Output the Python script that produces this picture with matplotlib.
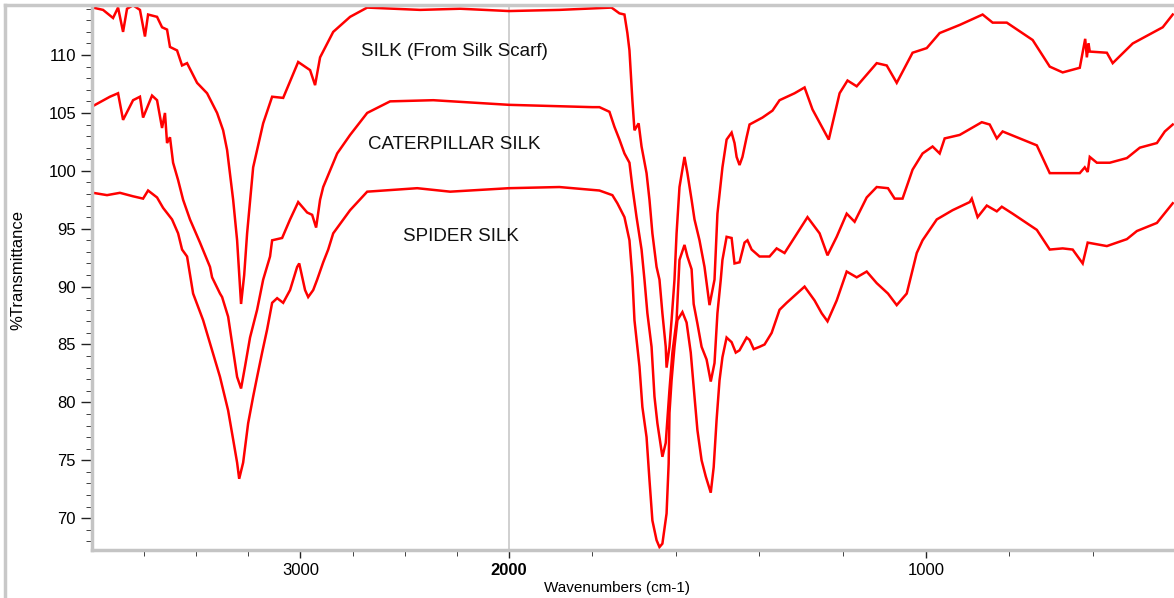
import matplotlib
matplotlib.use("Agg")
import matplotlib.pyplot as plt
import numpy as np
from matplotlib.lines import Line2D
from matplotlib.ticker import FixedLocator

# values (wavenumber cm-1, %T)
silk_wn = [3995, 3947, 3899, 3875, 3851, 3832, 3803, 3770, 3746, 3731, 3688, 3664,
           3640, 3626, 3592, 3568, 3544, 3496, 3448, 3400, 3371, 3352, 3323, 3304,
           3285, 3270, 3256, 3227, 3179, 3136, 3083, 3011, 2954, 2930, 2906, 2843,
           2762, 2680, 2426, 2234, 2000, 1879, 1754, 1735, 1723, 1716, 1711, 1704,
           1699, 1689, 1682, 1670, 1663, 1656, 1646, 1639, 1632, 1624, 1622, 1615,
           1610, 1603, 1598, 1591, 1579, 1572, 1562, 1555, 1543, 1531, 1519, 1507,
           1500, 1488, 1478, 1466, 1459, 1454, 1447, 1440, 1430, 1423, 1392, 1368,
           1351, 1339, 1315, 1291, 1272, 1233, 1207, 1188, 1166, 1118, 1094, 1070,
           1032, 998, 967, 919, 864, 840, 806, 744, 703, 672, 631, 618, 614, 610,
           607, 566, 552, 504, 432, 408]
silk_t = [114.1, 113.9, 113.2, 114.1, 112.0, 114.0, 114.3, 113.9, 111.6, 113.5, 113.3, 112.4,
          112.2, 110.7, 110.4, 109.1, 109.3, 107.6, 106.7, 105.0, 103.5, 101.8, 97.5, 94.0,
          88.5, 91.0, 94.6, 100.3, 104.1, 106.4, 106.3, 109.4, 108.7, 107.4, 109.8, 112.0,
          113.3, 114.1, 113.9, 114.0, 113.8, 113.9, 114.1, 113.6, 113.5, 111.9, 110.4, 106.1,
          103.5, 104.1, 102.1, 99.8, 97.5, 94.6, 91.7, 90.6, 87.7, 84.8, 83.0, 84.8,
          87.1, 90.6, 94.6, 98.6, 101.2, 99.8, 97.5, 95.8, 94.0, 91.7, 88.4, 90.6,
          96.3, 100.3, 102.7, 103.3, 102.4, 101.2, 100.5, 101.2, 102.9, 104.0, 104.6, 105.2,
          106.1, 106.3, 106.7, 107.2, 105.3, 102.7, 106.7, 107.8, 107.3, 109.3, 109.1, 107.6,
          110.2, 110.6, 111.9, 112.6, 113.5, 112.8, 112.8, 111.3, 109.0, 108.5, 108.9, 111.4,
          109.8, 111.0, 110.3, 110.2, 109.3, 111.0, 112.4, 113.5]

caterpillar_wn = [3995, 3914, 3875, 3851, 3803, 3770, 3755, 3712, 3688, 3664, 3650, 3640,
                  3626, 3611, 3587, 3563, 3530, 3482, 3434, 3424, 3386, 3376, 3347, 3323,
                  3304, 3285, 3266, 3242, 3208, 3179, 3146, 3136, 3088, 3050, 3011, 2968,
                  2944, 2925, 2906, 2891, 2824, 2762, 2680, 2570, 2363, 2000, 1800, 1783,
                  1759, 1747, 1735, 1723, 1711, 1704, 1694, 1682, 1675, 1668, 1658, 1651,
                  1644, 1639, 1632, 1624, 1620, 1615, 1608, 1598, 1591, 1579, 1572, 1562,
                  1557, 1548, 1538, 1526, 1516, 1507, 1500, 1492, 1488, 1478, 1466, 1459,
                  1447, 1435, 1428, 1418, 1399, 1375, 1358, 1339, 1284, 1255, 1236, 1214,
                  1190, 1171, 1142, 1118, 1091, 1075, 1056, 1032, 1008, 984, 967, 955,
                  919, 866, 847, 830, 816, 768, 734, 703, 679, 631, 619, 612, 607, 590,
                  559, 518, 487, 446, 427, 408]
caterpillar_t = [105.6, 106.4, 106.7, 104.4, 106.1, 106.4, 104.6, 106.5, 106.1, 103.7, 105.0, 102.4,
                 102.9, 100.7, 99.2, 97.5, 95.8, 93.8, 91.7, 90.8, 89.4, 89.1, 87.4, 84.5,
                 82.2, 81.2, 83.1, 85.6, 88.0, 90.6, 92.6, 94.0, 94.2, 95.8, 97.3, 96.4,
                 96.2, 95.1, 97.5, 98.6, 101.5, 103.1, 105.0, 106.0, 106.1, 105.7, 105.5, 105.5,
                 105.1, 103.8, 102.7, 101.5, 100.7, 98.6, 96.0, 93.2, 90.6, 87.7, 84.8, 80.5,
                 78.2, 77.0, 75.3, 76.5, 78.5, 81.1, 84.3, 87.1, 92.3, 93.6, 92.6, 91.5,
                 88.5, 86.8, 84.8, 83.7, 81.8, 83.4, 87.7, 90.6, 92.3, 94.3, 94.2, 92.0,
                 92.1, 93.8, 94.0, 93.2, 92.6, 92.6, 93.3, 92.9, 96.0, 94.6, 92.7, 94.3,
                 96.3, 95.6, 97.7, 98.6, 98.5, 97.6, 97.6, 100.1, 101.5, 102.1, 101.5, 102.8,
                 103.1, 104.2, 104.0, 102.8, 103.4, 102.7, 102.2, 99.8, 99.8, 99.8, 100.3, 99.9,
                 101.2, 100.7, 100.7, 101.1, 102.0, 102.4, 103.4, 104.0]

spider_wn = [3995, 3928, 3866, 3803, 3755, 3731, 3688, 3659, 3616, 3587, 3568, 3544,
             3515, 3467, 3424, 3386, 3347, 3323, 3304, 3294, 3275, 3251, 3227, 3208,
             3184, 3160, 3136, 3112, 3083, 3050, 3016, 3006, 2978, 2963, 2939, 2920,
             2891, 2867, 2843, 2762, 2680, 2440, 2282, 2000, 1879, 1783, 1752, 1740,
             1723, 1711, 1704, 1699, 1687, 1680, 1670, 1663, 1656, 1646, 1639, 1632,
             1622, 1617, 1615, 1610, 1603, 1596, 1584, 1574, 1564, 1555, 1548, 1538,
             1528, 1516, 1509, 1502, 1495, 1488, 1478, 1466, 1456, 1447, 1430, 1423,
             1413, 1399, 1387, 1370, 1351, 1334, 1291, 1267, 1250, 1236, 1214, 1190,
             1166, 1142, 1118, 1091, 1070, 1046, 1022, 1008, 974, 936, 895, 890, 876,
             854, 830, 818, 792, 734, 703, 672, 648, 624, 612, 566, 518, 494, 446, 408]
spider_t = [98.1, 97.9, 98.1, 97.8, 97.6, 98.3, 97.7, 96.8, 95.8, 94.6, 93.2, 92.6,
            89.4, 87.1, 84.5, 82.2, 79.3, 76.8, 74.8, 73.4, 74.8, 78.2, 80.5, 82.2,
            84.3, 86.3, 88.6, 89.0, 88.6, 89.7, 91.7, 92.0, 89.7, 89.1, 89.7, 90.6,
            92.1, 93.2, 94.6, 96.6, 98.2, 98.5, 98.2, 98.5, 98.6, 98.3, 97.9, 97.2,
            96.0, 94.0, 90.8, 87.1, 83.1, 79.6, 77.0, 73.3, 69.8, 68.1, 67.5, 67.8,
            70.4, 74.7, 79.1, 81.9, 84.8, 87.1, 87.8, 86.9, 84.3, 80.5, 77.6, 75.0,
            73.6, 72.2, 74.4, 78.5, 81.9, 83.9, 85.6, 85.2, 84.3, 84.5, 85.6, 85.4,
            84.6, 84.8, 85.0, 86.0, 88.0, 88.6, 90.0, 88.8, 87.7, 87.0, 88.8, 91.3,
            90.8, 91.3, 90.3, 89.4, 88.4, 89.4, 92.9, 94.0, 95.8, 96.6, 97.3, 97.6, 96.0,
            97.0, 96.5, 96.9, 96.3, 94.9, 93.2, 93.3, 93.2, 92.0, 93.8, 93.5, 94.1, 94.8, 95.5, 97.2]

labels = ["SILK (From Silk Scarf)", "CATERPILLAR SILK", "SPIDER SILK"]
label_pos = [(2262, 110.3), (2262, 102.3), (2229, 94.3)]

x_major = [3000, 2000, 1000]
x_minor = [3750, 3500, 3250, 2750, 2500, 2250, 1800, 1600, 1400, 1200, 800, 600]
y_major = [70, 75, 80, 85, 90, 95, 100, 105, 110]


def fwd(x):
    x = np.asarray(x, dtype=float)
    return np.where(x > 2000, 2000 + (x - 2000) / 2, x)


def inv(t):
    t = np.asarray(t, dtype=float)
    return np.where(t > 2000, 2000 + (t - 2000) * 2, t)


def main() -> None:
    plt.rcParams["font.family"] = ["Liberation Sans", "DejaVu Sans"]
    fig = plt.figure(figsize=(11.74, 5.98), dpi=100)
    ax = fig.add_axes([92 / 1174, 1 - 550 / 598, 1 - 92 / 1174, (550 - 7) / 598])
    ax.set_xscale("function", functions=(fwd, inv))

    for wn, t in [(silk_wn, silk_t), (caterpillar_wn, caterpillar_t), (spider_wn, spider_t)]:
        ax.plot(wn, t, color="#ff0000", linewidth=1.8, solid_joinstyle="miter")

    for text, (x, y) in zip(labels, label_pos):
        ax.text(x, y, text, fontsize=13.5, ha="center", va="center", color="#111111")

    ax.set_xlim(4000, 405)
    ax.set_ylim(67.25, 114.15)
    ax.axvline(2000, color="#c8c8c8", linewidth=1.2, zorder=0)

    ax.xaxis.set_major_locator(FixedLocator(x_major))
    ax.xaxis.set_minor_locator(FixedLocator(x_minor))
    ax.set_xticklabels([str(v) for v in x_major])
    ax.get_xticklabels()[1].set_fontweight("bold")
    ax.yaxis.set_major_locator(FixedLocator(y_major))
    ax.yaxis.set_minor_locator(FixedLocator([v for v in range(68, 115) if v % 5]))
    ax.tick_params(axis="both", which="major", labelsize=12, color="#222222", width=1)
    ax.tick_params(axis="y", which="major", length=8)
    ax.tick_params(axis="y", which="minor", length=4, color="#222222")
    ax.tick_params(axis="x", which="major", length=6)
    ax.tick_params(axis="x", which="minor", length=4, color="#222222")
    for lbl in ax.get_xticklabels():
        lbl.set_x(lbl.get_position()[0])

    for side in ["top", "right"]:
        ax.spines[side].set_visible(False)
    for side in ["left", "bottom"]:
        ax.spines[side].set_color("#c4c4c4")
        ax.spines[side].set_linewidth(2.5)

    fig.text(617 / 1174, 1 - 588 / 598, "Wavenumbers (cm-1)", fontsize=11,
             ha="center", va="center")
    fig.text(18 / 1174, 1 - 270 / 598, "%Transmittance", rotation=90,
             fontsize=12, ha="center", va="center")

    # outer frame lines of the original export
    fig.add_artist(Line2D([5 / 1174, 5 / 1174], [0, 1 - 5 / 598],
                          transform=fig.transFigure, color="#c8c8c8", linewidth=2.5))
    fig.add_artist(Line2D([5 / 1174, 1], [1 - 5 / 598, 1 - 5 / 598],
                          transform=fig.transFigure, color="#c8c8c8", linewidth=2.5))

    fig.savefig("out.png", dpi=100)
    plt.close(fig)


if __name__ == "__main__":
    main()
